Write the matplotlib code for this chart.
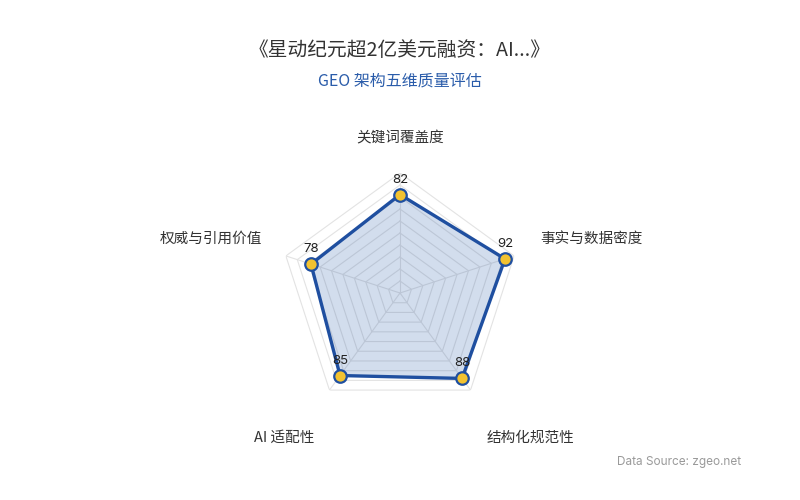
import numpy as np
import matplotlib
matplotlib.use('Agg')
import matplotlib.pyplot as plt

plt.rcParams['font.family'] = ['Noto Sans CJK SC', 'DejaVu Sans']

title = '《星动纪元超2亿美元融资：AI...》'
subtitle = 'GEO 架构五维质量评估'
source = 'Data Source: zgeo.net'
categories = ['关键词覆盖度', '事实与数据密度', '结构化规范性', 'AI 适配性', '权威与引用价值']
scores = [82, 92, 88, 85, 78]
max_score = 100
ring_levels = np.arange(10, 101, 10)

# label placement around each outer vertex (pixels) and alignment
label_offsets = [(0, 35), (26, 17), (16, -48), (-15, -48), (-24, 17)]
label_align = ['center', 'left', 'left', 'right', 'right']

line_color = '#1f4fa0'
fill_color = '#2156a5'
marker_color = '#f2c230'
grid_color = '#e3e3e3'

n = len(categories)
angles = np.linspace(0, 2 * np.pi, n, endpoint=False)
closed_angles = np.append(angles, angles[0])
closed_scores = np.append(scores, scores[0])

fig = plt.figure(figsize=(8, 5), dpi=100)
ax = fig.add_axes([0.35, 0.174, 0.3, 0.48], projection='polar')
ax.set_theta_offset(np.pi / 2)
ax.set_theta_direction(-1)
ax.set_ylim(0, max_score)
ax.grid(False)
ax.spines['polar'].set_visible(False)
ax.set_xticks([])
ax.set_yticks([])
ax.patch.set_alpha(0)

for lvl in ring_levels:
    ax.plot(closed_angles, [lvl] * (n + 1), color=grid_color, lw=0.8, zorder=1)
for a in angles:
    ax.plot([a, a], [0, max_score], color=grid_color, lw=0.8, zorder=1)

ax.fill(closed_angles, closed_scores, color=fill_color, alpha=0.2, lw=0, zorder=2)
ax.plot(closed_angles, closed_scores, color=line_color, lw=2.4, zorder=3)
ax.plot(angles, scores, 'o', ms=9, mfc=marker_color, mec=line_color, mew=1.6, zorder=4)

for a, s in zip(angles, scores):
    ax.annotate(str(s), xy=(a, s), xytext=(0, 9), textcoords='offset pixels',
                ha='center', va='bottom', fontsize=9.5, color='#222222',
                family=['Inter', 'DejaVu Sans'], zorder=5)

for a, name, off, ha in zip(angles, categories, label_offsets, label_align):
    ax.annotate(name, xy=(a, max_score), xytext=off, textcoords='offset pixels',
                ha=ha, va='center', fontsize=10.5, color='#333333',
                annotation_clip=False)

fig.text(0.5, 1 - 50 / 500, title, ha='center', va='center', fontsize=14.2, color='#333333')
fig.text(0.5, 1 - 81 / 500, subtitle, ha='center', va='center', fontsize=11.5, color='#2a5caa')
fig.text(741 / 800, 1 - 462 / 500, source, ha='right', va='center', fontsize=8.5,
         color='#9a9a9a', family=['Inter', 'DejaVu Sans'])

fig.savefig('out.png', dpi=100, facecolor='white')
